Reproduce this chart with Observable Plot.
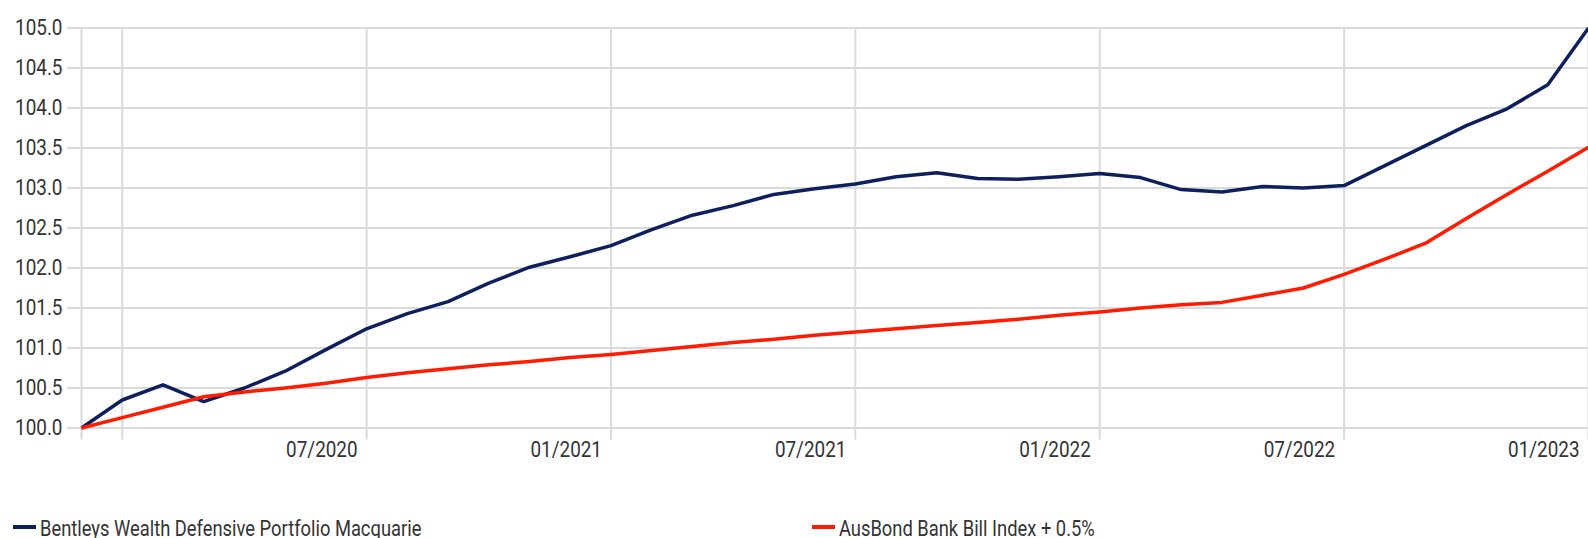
<!DOCTYPE html>
<html>
<head>
<meta charset="utf-8">
<script src="https://cdn.jsdelivr.net/npm/d3@7"></script>
<script src="https://cdn.jsdelivr.net/npm/@observablehq/plot@0.6"></script>
<style>
  html, body { margin: 0; padding: 0; background: #fff; overflow: hidden; }
  #chart { position: absolute; left: 0; top: 0; }
  .lg-item { position: absolute; top: 517px; height: 23px; font-family: Roboto, sans-serif; font-weight: 400; font-size: 22.5px; line-height: 23px; color: #333; white-space: nowrap; }
  .lg-sw { position: absolute; width: 23px; height: 4px; top: 8px; left: 0; }
  .lg-tx { position: absolute; left: 27px; top: 0; transform: scaleX(0.815); transform-origin: 0 0; }
</style>
</head>
<body>
<div id="chart"></div>
<div id="legend"></div>
<script>
// Month categories (monthly, Dec 2019 – Jan 2023)
const months = [
  "12/2019","01/2020","02/2020","03/2020","04/2020","05/2020","06/2020","07/2020","08/2020","09/2020","10/2020","11/2020","12/2020",
  "01/2021","02/2021","03/2021","04/2021","05/2021","06/2021","07/2021","08/2021","09/2021","10/2021","11/2021","12/2021",
  "01/2022","02/2022","03/2022","04/2022","05/2022","06/2022","07/2022","08/2022","09/2022","10/2022","11/2022","12/2022",
  "01/2023"
];
// Bentleys Wealth Defensive Portfolio Macquarie (growth of 100)
const fund = [
  100.00, 100.35, 100.54, 100.33, 100.50, 100.71, 100.98, 101.24, 101.43, 101.58, 101.81, 102.01, 102.14,
  102.28, 102.48, 102.66, 102.78, 102.92, 102.99, 103.05, 103.14, 103.19, 103.12, 103.11, 103.14,
  103.18, 103.13, 102.98, 102.95, 103.02, 103.00, 103.03, 103.28, 103.53, 103.78, 103.99, 104.29,
  105.00
];
// AusBond Bank Bill Index + 0.5%
const bench = [
  100.00, 100.13, 100.26, 100.39, 100.45, 100.50, 100.56, 100.63, 100.69, 100.74, 100.79, 100.83, 100.88,
  100.92, 100.97, 101.02, 101.07, 101.11, 101.16, 101.20, 101.24, 101.28, 101.32, 101.36, 101.41,
  101.45, 101.50, 101.54, 101.57, 101.66, 101.75, 101.92, 102.11, 102.31, 102.62, 102.92, 103.21,
  103.51
];
const seriesNames = ["Bentleys Wealth Defensive Portfolio Macquarie", "AusBond Bank Bill Index + 0.5%"];
const seriesColors = ["#0e1f5e", "#ff1a00"];
const yTicks = [100, 100.5, 101, 101.5, 102, 102.5, 103, 103.5, 104, 104.5, 105];
const xGrid = ["12/2019","01/2020","07/2020","01/2021","07/2021","01/2022","07/2022","01/2023"];
const xLabels = ["07/2020","01/2021","07/2021","01/2022","07/2022","01/2023"];

const rows = [];
months.forEach((m, i) => rows.push({month: m, value: fund[i], series: seriesNames[0]}));
months.forEach((m, i) => rows.push({month: m, value: bench[i], series: seriesNames[1]}));

const font = 'Roboto, sans-serif';

const chart = Plot.plot({
  width: 1588,
  height: 500,
  marginLeft: 81,
  marginRight: 0,
  marginTop: 27.5,
  marginBottom: 72.5,
  style: {fontFamily: font, fontSize: "22.5px", fontWeight: 400, color: "#333", background: "#fff", overflow: "visible"},
  x: {type: "point", domain: months, padding: 0, round: false},
  y: {domain: [100, 105]},
  color: {domain: seriesNames, range: seriesColors},
  marks: [
    Plot.ruleY(yTicks, {stroke: "#dadada", strokeWidth: 2, insetLeft: -14}),
    Plot.ruleX(xGrid, {x: d => d, stroke: "#dadada", strokeWidth: 2, insetBottom: -12}),
    Plot.axisY(yTicks, {tickSize: 0, tickPadding: 19, tickFormat: d => d.toFixed(1), fontSize: 22.5, label: null, fill: "#333"}),
    Plot.axisX(xLabels, {tickSize: 0, tickPadding: 13.5, textAnchor: "end", dx: -9, fontSize: 22.5, label: null, fill: "#333"}),
    Plot.line(rows, {x: "month", y: "value", z: "series", stroke: "series", strokeWidth: 3.5, strokeLinejoin: "round", strokeLinecap: "butt"})
  ]
});
document.getElementById("chart").appendChild(chart);

// condense the axis tick labels horizontally around their anchor point
const sx = 0.84;
chart.querySelectorAll("text").forEach(t => {
  const tr = t.getAttribute("transform") || "";
  t.setAttribute("transform", `${tr} scale(${sx},1)`);
});

const legend = document.getElementById("legend");
const legendLeft = [13, 812];
seriesNames.forEach((name, i) => {
  const item = document.createElement("div");
  item.className = "lg-item";
  item.style.left = legendLeft[i] + "px";
  const sw = document.createElement("span");
  sw.className = "lg-sw";
  sw.style.background = seriesColors[i];
  const tx = document.createElement("span");
  tx.className = "lg-tx";
  tx.textContent = name;
  item.appendChild(sw);
  item.appendChild(tx);
  legend.appendChild(item);
});
</script>
</body>
</html>
